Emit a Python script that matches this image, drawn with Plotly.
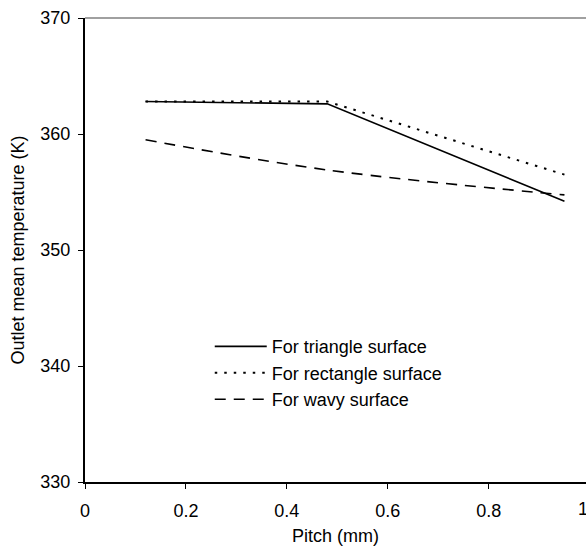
import plotly.graph_objects as go

# Pitch values (mm) at which the outlet temperature was computed
pitch = [0.12, 0.48, 0.95]

# Outlet mean temperature (K) for each surface profile
temp_triangle = [362.8, 362.6, 354.2]
temp_rectangle = [362.8, 362.8, 356.5]
temp_wavy = [359.5, 356.9, 354.75]

x_ticks = [0, 0.2, 0.4, 0.6, 0.8]
x_tick_text = ["0", "0.2", "0.4", "0.6", "0.8"]
y_ticks = [330, 340, 350, 360, 370]

FONT = "Arial, Liberation Sans, sans-serif"
FS = 18
X_MAX = 0.9927  # right end of the visible x range (the 1.0 tick lies just past the page edge)

fig = go.Figure()
fig.add_trace(go.Scatter(
    x=pitch, y=temp_triangle, mode="lines", name="For triangle surface",
    line=dict(color="black", width=1.6, dash="solid"),
))
fig.add_trace(go.Scatter(
    x=pitch, y=temp_rectangle, mode="lines", name="For rectangle surface",
    line=dict(color="black", width=2, dash="2.5px,7px"),
))
fig.add_trace(go.Scatter(
    x=pitch, y=temp_wavy, mode="lines", name="For wavy surface",
    line=dict(color="black", width=1.6, dash="11px,8px",
              shape="spline", smoothing=1),
))

# "1" tick label, mostly cut off by the right edge of the page
fig.add_annotation(
    x=1 / X_MAX, xref="paper", y=0, yref="paper", yanchor="top", yshift=-15,
    text="1", showarrow=False, font=dict(family=FONT, size=FS, color="black"),
)

fig.update_layout(
    width=586, height=552,
    margin=dict(l=84.5, r=0, t=17.5, b=70.3),
    paper_bgcolor="white", plot_bgcolor="white",
    font=dict(family=FONT, size=FS, color="black"),
    showlegend=True,
    legend=dict(
        x=0.249, y=0.3315, xanchor="left", yanchor="top",
        bgcolor="rgba(0,0,0,0)", borderwidth=0,
        tracegroupgap=0, itemwidth=52,
        font=dict(family=FONT, size=FS, color="black"),
    ),
    xaxis=dict(
        range=[0, X_MAX], tickvals=x_ticks, ticktext=x_tick_text,
        showgrid=False, zeroline=False, showline=True, linecolor="black", linewidth=2,
        ticks="outside", ticklen=5, tickcolor="black", tickwidth=1,
        title=dict(text="Pitch (mm)", standoff=10, font=dict(size=FS)),
        tickfont=dict(size=FS), ticklabelstandoff=6,
    ),
    yaxis=dict(
        range=[330, 370], tickvals=y_ticks,
        showgrid=False, zeroline=False, showline=True, linecolor="black", linewidth=2,
        ticks="outside", ticklen=5, tickcolor="black", tickwidth=1,
        title=dict(text="Outlet mean temperature (K)", standoff=11, font=dict(size=FS)),
        tickfont=dict(size=FS), ticklabelstandoff=4,
    ),
    shapes=[
        dict(type="line", xref="paper", yref="paper", x0=0, x1=1, y0=1, y1=1,
             line=dict(color="#808080", width=1.5)),
    ],
)

fig.write_html("out.html")
